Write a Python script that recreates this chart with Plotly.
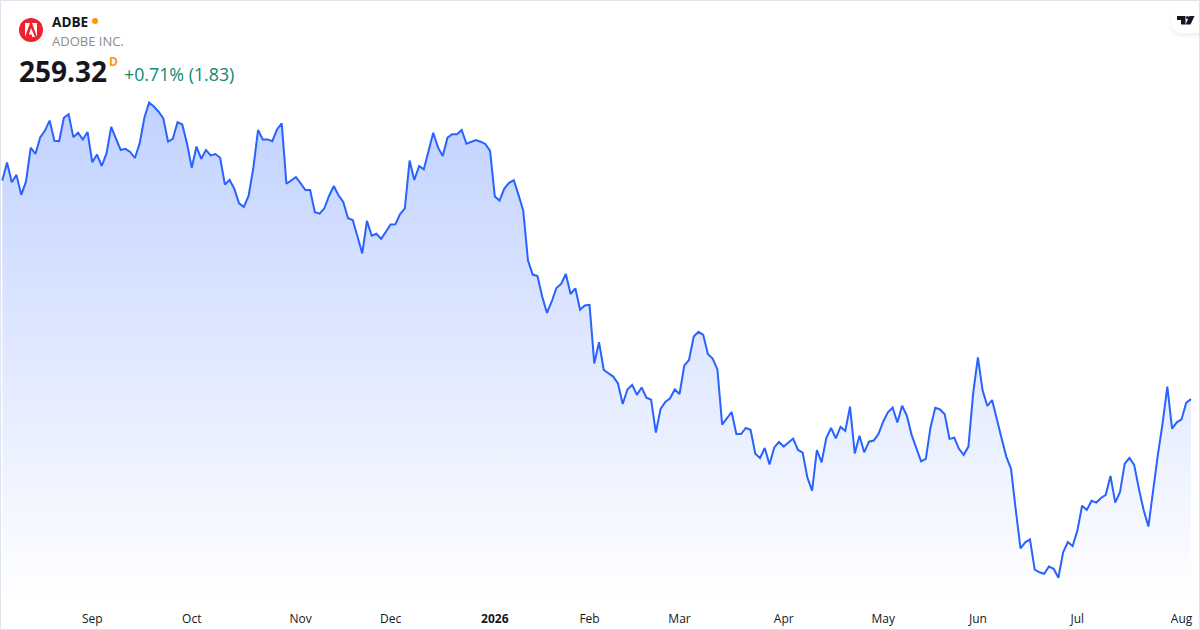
import plotly.graph_objects as go

# daily closes (no price axis shown, scale is estimated)
closes = [
    335.8, 342.1, 335.2, 337.8, 330.8, 335.4, 347.3, 345.1, 350.9, 353.3,
    356.8, 349.7, 349.6, 357.8, 359.0, 351.0, 352.5, 350.2, 352.8, 342.2,
    344.9, 340.9, 345.3, 354.6, 350.5, 346.5, 346.9, 345.8, 343.7, 348.8,
    357.8, 363.1, 361.7, 359.9, 357.6, 349.4, 350.4, 356.2, 355.4, 348.8,
    340.3, 347.7, 343.4, 346.5, 344.6, 345.1, 343.8, 334.4, 336.0, 332.9,
    327.8, 326.6, 330.4, 340.1, 353.5, 350.2, 350.2, 349.6, 353.7, 355.8,
    334.7, 336.0, 337.0, 334.8, 332.5, 332.5, 324.7, 324.2, 326.1, 330.4,
    333.9, 330.6, 328.3, 322.6, 322.0, 316.2, 310.3, 321.7, 316.5, 317.2,
    315.4, 317.9, 320.4, 320.5, 324.1, 326.1, 342.8, 336.0, 340.9, 339.7,
    346.2, 352.5, 347.4, 344.4, 350.8, 352.0, 352.0, 353.5, 348.7, 349.3,
    350.0, 349.4, 348.6, 346.2, 330.2, 328.8, 333.0, 335.0, 335.9, 330.8,
    325.3, 307.8, 302.9, 302.4, 295.2, 289.5, 293.4, 298.2, 299.6, 303.1,
    296.1, 298.1, 290.6, 292.1, 292.3, 271.8, 279.2, 269.5, 268.4, 267.2,
    264.8, 257.6, 262.7, 264.3, 260.8, 263.4, 259.8, 259.1, 247.6, 255.9,
    258.3, 259.6, 262.7, 261.1, 271.0, 273.0, 281.2, 282.9, 281.8, 275.0,
    273.5, 269.7, 250.4, 252.6, 254.8, 247.1, 247.1, 249.2, 248.6, 240.2,
    238.7, 242.2, 236.4, 242.4, 244.3, 242.7, 244.1, 245.5, 241.5, 240.6,
    231.8, 227.3, 241.5, 237.2, 245.8, 249.2, 245.6, 249.6, 248.2, 256.7,
    240.3, 246.5, 240.7, 244.4, 244.8, 247.1, 251.4, 254.7, 256.3, 251.1,
    257.0, 253.5, 246.8, 242.1, 237.5, 238.4, 249.4, 256.3, 255.7, 254.0,
    245.4, 245.8, 241.9, 239.8, 242.7, 261.3, 273.9, 262.3, 256.9, 259.0,
    252.0, 245.6, 239.2, 234.9, 220.5, 207.1, 209.2, 210.2, 199.6, 198.7,
    198.2, 200.7, 199.9, 196.8, 205.7, 209.3, 207.9, 213.2, 222.0, 220.5,
    223.7, 223.1, 224.7, 225.8, 232.4, 223.1, 226.7, 236.7, 238.7, 236.3,
    227.9, 220.5, 214.7, 227.5, 239.8, 250.8, 263.7, 249.0, 251.2, 252.2,
    258.1, 259.32,
]
bars = list(range(len(closes)))

# month labels sit on the first trading bar of each month
tick_bars = [19, 40, 63, 82, 104, 124, 143, 165, 186, 206, 227, 249]
tick_labels = ["Sep", "Oct", "Nov", "Dec", "<b>2026</b>", "Feb", "Mar", "Apr", "May", "Jun", "Jul", "Aug"]

FONT = "Open Sans, sans-serif"
LINE_BLUE = "#2962ff"
# plot area is 1200x600, paper coords are relative to that
W, H = 1200, 600

fig = go.Figure()

fig.add_trace(go.Scatter(
    x=bars,
    y=closes,
    mode="lines",
    line=dict(color=LINE_BLUE, width=2),
    fill="tozeroy",
    fillgradient=dict(
        type="vertical",
        start=189,
        stop=363,
        colorscale=[[0, "rgba(255,255,255,1)"], [1, "rgb(193,210,255)"]],
    ),
    hoverinfo="skip",
))

# header texts
header = [
    (49.5, 21, "<b>ADBE</b>", 13.6, "#131722"),
    (49.5, 40.5, "ADOBE INC.", 13, "#8c8c8c"),
    (17, 71.5, "<b>259.32</b>", 28, "#131722"),
    (107, 61.5, "<b>D</b>", 12, "#ff9800"),
    (122, 74.5, "+0.71% (1.83)", 17.8, "#0b8a72"),
]
annotations = [
    dict(
        text=txt, x=px / W, y=1 - py / H, xref="paper", yref="paper",
        xanchor="left", yanchor="middle", showarrow=False,
        font=dict(family=FONT, size=size, color=color),
    )
    for px, py, txt, size, color in header
]


def box(x0, y0, x1, y1):
    return dict(x0=x0 / W, x1=x1 / W, y0=1 - y1 / H, y1=1 - y0 / H, xref="paper", yref="paper")


def pt(x, y):
    return f"{x / W:.5f},{1 - y / H:.5f}"


def path(points):
    # pixel coords -> paper coords
    return "M" + " L".join(pt(x, y) for x, y in points) + " Z"


def badge(x0, y0, x1, y1):
    # rounded on the left, runs into the right edge of the card
    r = (y1 - y0) / 2
    return (f"M{pt(x1, y0)} L{pt(x0 + r, y0)} Q{pt(x0, y0)} {pt(x0, y0 + r)} "
            f"Q{pt(x0, y1)} {pt(x0 + r, y1)} L{pt(x1, y1)} Z")


# soft shadow under the badge, a few faint layers
shadow = [
    dict(type="path", xref="paper", yref="paper", fillcolor="rgba(19,23,34,0.012)", line=dict(width=0),
         layer="above", path=badge(1171 - g, 8 + g, 1199, 33 + 2 + g))
    for g in (3, 2, 1, 0)
]

shapes = [
    # card border
    dict(type="rect", line=dict(color="#e0e3eb", width=1), fillcolor="rgba(0,0,0,0)", layer="above",
         **box(0.5, 0.5, 1199.5, 629.5)),
    # market status dot
    dict(type="circle", fillcolor="#ff9800", line=dict(width=0), **box(92, 18, 98, 24)),
    # adobe logo
    dict(type="circle", fillcolor="#f0202d", line=dict(width=0), **box(19, 18, 43, 42)),
    dict(type="path", xref="paper", yref="paper", fillcolor="white", line=dict(width=0),
         path=path([(26, 23), (30, 23), (25, 37), (25, 23)])),
    dict(type="path", xref="paper", yref="paper", fillcolor="white", line=dict(width=0),
         path=path([(32, 23), (37, 23), (37, 37)])),
    dict(type="path", xref="paper", yref="paper", fillcolor="white", line=dict(width=0),
         path=path([(31, 28), (35, 37), (32.5, 37), (31.5, 34.5), (29, 34.5)])),
    # tradingview badge
    *shadow,
    dict(type="path", xref="paper", yref="paper", fillcolor="white", line=dict(width=0), layer="above",
         path=badge(1171, 8, 1199, 33)),
    dict(type="path", xref="paper", yref="paper", fillcolor="#131722", line=dict(width=0), layer="above",
         path=path([(1177, 16), (1185.5, 16), (1185.5, 24.5), (1181, 24.5), (1181, 20), (1177, 20)])),
    dict(type="circle", fillcolor="#131722", line=dict(width=0), layer="above", **box(1186, 16, 1189, 19)),
    dict(type="path", xref="paper", yref="paper", fillcolor="#131722", line=dict(width=0), layer="above",
         path=path([(1189.5, 16), (1194.5, 16), (1190.5, 24.5), (1185.5, 24.5)])),
]

fig.update_layout(
    width=1200,
    height=630,
    margin=dict(l=0, r=0, t=0, b=30),
    paper_bgcolor="#ffffff",
    plot_bgcolor="#ffffff",
    showlegend=False,
    annotations=annotations,
    shapes=shapes,
)

fig.update_xaxes(
    range=[-0.486, 252.9],
    tickmode="array",
    tickvals=tick_bars,
    ticktext=tick_labels,
    showgrid=False,
    zeroline=False,
    showline=False,
    ticks="",
    ticklabelstandoff=10,
    tickfont=dict(family=FONT, size=12, color="#131722"),
)
fig.update_yaxes(range=[189, 399], visible=False)

fig.write_html("out.html", config={"displayModeBar": False}, post_script="document.body.style.margin='0';")
